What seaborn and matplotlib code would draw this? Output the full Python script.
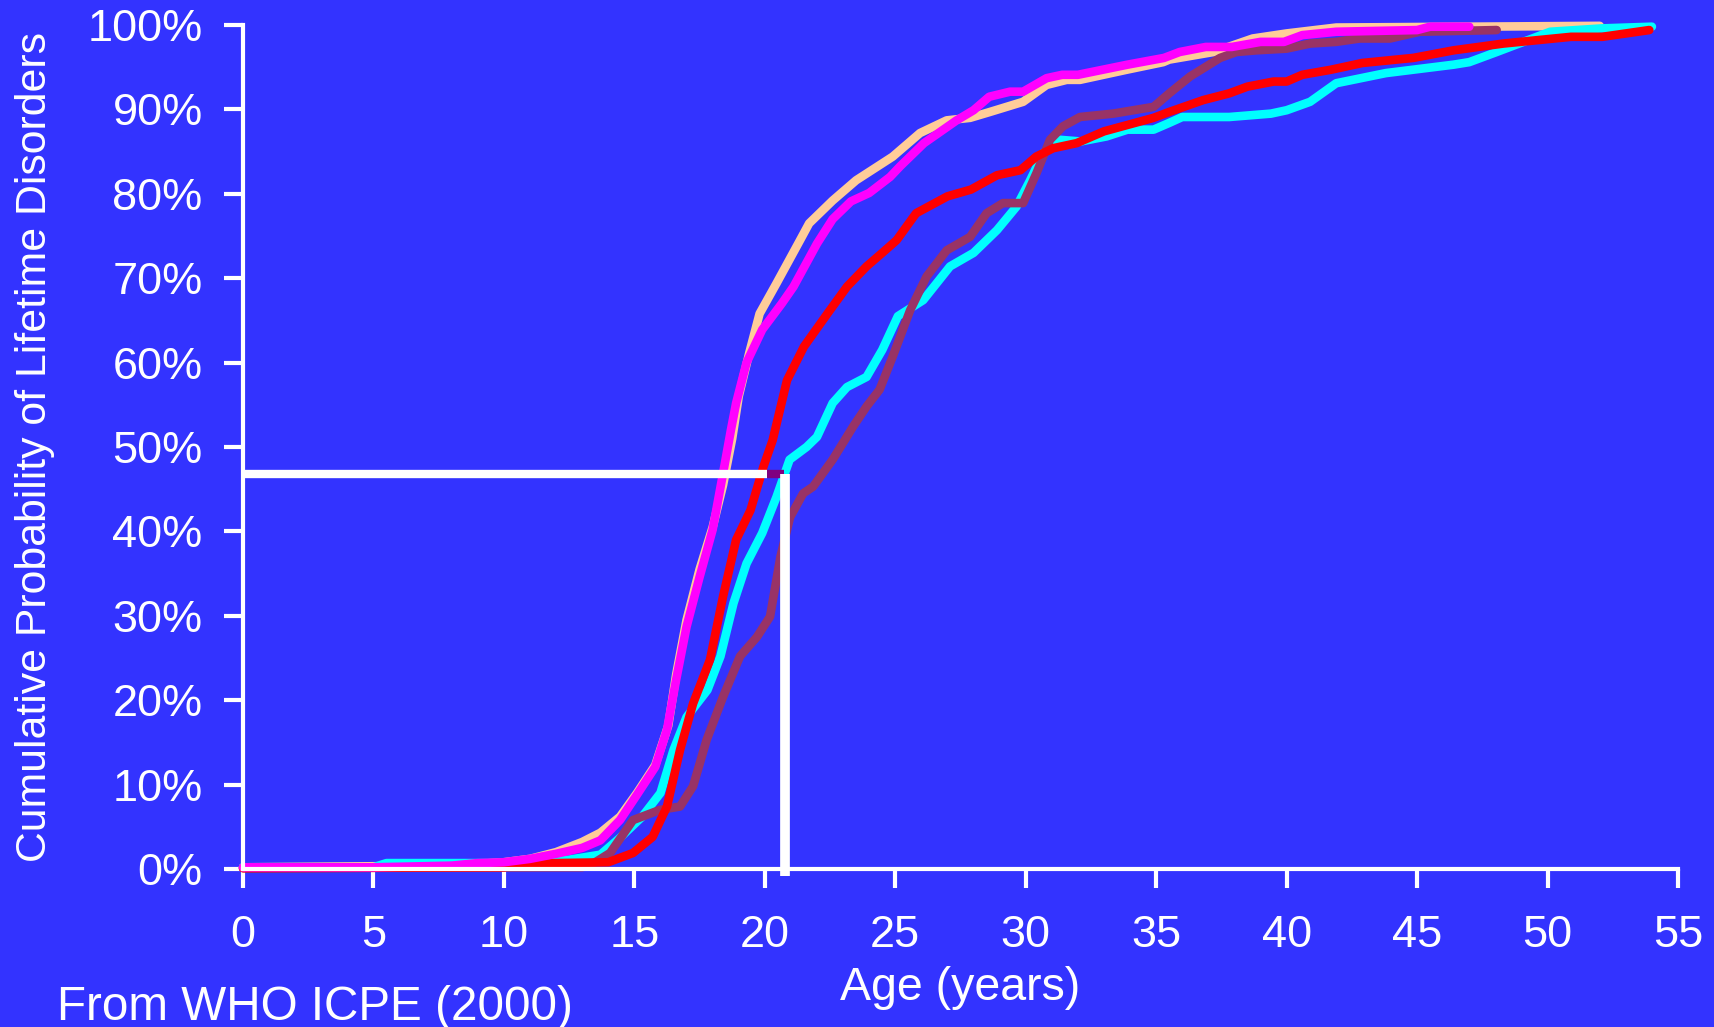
import matplotlib
matplotlib.use("Agg")
import matplotlib.pyplot as plt
import numpy as np
import pandas as pd
import seaborn as sns

# ---------------- data ----------------
peach_age = [0, 8, 10, 11, 12, 13, 13.7, 14.45, 15.1, 15.8, 16.3, 16.6, 17.0, 17.5, 18.0, 18.4,
             18.75, 19.0, 19.4, 19.8, 20.45, 21.35, 21.7, 22.6, 23.5, 24.3, 24.9, 25.95, 26.97,
             27.87, 28.63, 29.9, 30.8, 31.57, 32.08, 33.87, 35.27, 35.5, 37.2, 38.7, 40, 41.9, 52]
peach_pct = [0.2, 0.4, 0.8, 1.2, 2.0, 3.2, 4.3, 6.2, 9.0, 12.3, 17.0, 23.0, 29.5, 35.5, 40.5, 45.5,
             51.0, 56.0, 61.1, 65.8, 69.4, 74.5, 76.5, 79.2, 81.6, 83.2, 84.4, 87.2, 88.7,
             89.0, 89.7, 90.9, 92.9, 93.5, 93.5, 94.7, 95.6, 95.9, 96.8, 98.4, 99.0, 99.7, 99.9]

cyan_age = [0, 5, 5.5, 10, 11, 12.5, 13.7, 14.45, 15.3, 16.0, 16.5, 17.0, 17.8, 18.3, 18.8, 19.3,
            19.9, 20.45, 20.95, 21.6, 22.0, 22.6, 23.15, 23.9, 24.5, 25.1, 26.07, 27.1, 28.0, 28.9,
            29.65, 30.17, 30.67, 31.3, 32.1, 33.1, 33.9, 34.9, 35.5, 36.0, 37.8, 39.4, 40.0, 40.9,
            41.9, 43.8, 46.4, 47.0, 48.05, 50.1, 52.1, 54.0]
cyan_pct = [0.2, 0.2, 0.7, 0.7, 0.9, 1.1, 1.7, 3.7, 6.2, 9.0, 14.1, 18.0, 21.2, 25.2, 31.5, 36.2,
            39.8, 44.1, 48.5, 50.0, 51.2, 55.2, 57.1, 58.3, 61.5, 65.5, 67.4, 71.4, 73.0, 75.7,
            78.5, 81.6, 84.8, 86.4, 86.2, 86.8, 87.6, 87.6, 88.4, 89.1, 89.1, 89.5, 89.9, 90.9,
            93.1, 94.3, 95.3, 95.6, 96.8, 99.2, 99.6, 99.8]

brown_age = [0, 13, 13.5, 14.07, 14.95, 15.98, 16.75, 17.25, 17.77, 18.4, 19.05, 19.7, 20.2, 20.6,
             20.97, 21.47, 21.85, 22.6, 23.4, 23.9, 24.4, 24.9, 25.57, 26.2, 26.97, 27.87, 28.5,
             29.13, 29.9, 30.42, 30.93, 31.43, 32.08, 33.35, 34.9, 35.5, 36.3, 37.45, 38.08, 38.85,
             40.0, 40.9, 41.9, 42.8, 43.96, 45.1, 48.05]
brown_pct = [0.1, 0.2, 0.8, 1.9, 5.8, 7.0, 7.4, 9.8, 15.3, 20.4, 25.2, 27.5, 29.9, 37.0,
             41.7, 44.5, 45.3, 48.5, 52.5, 54.8, 56.8, 60.7, 66.2, 70.2, 73.3, 74.9, 77.7,
             78.9, 78.9, 82.5, 86.4, 88.0, 89.1, 89.5, 90.3, 91.9, 93.9, 96.1, 96.8, 97.0,
             97.2, 97.8, 98.0, 98.4, 98.4, 99.2, 99.4]

red_age = [0, 10, 10.5, 12, 14, 14.95, 15.7, 16.25, 16.75, 17.25, 17.9, 18.4, 18.9, 19.45, 19.95,
           20.3, 20.85, 21.5, 22.4, 23.15, 23.9, 24.5, 25.05, 25.8, 27.0, 27.9, 28.9, 29.8, 30.4,
           31.05, 31.95, 33.0, 34.9, 35.5, 36.8, 37.8, 38.5, 39.5, 40.0, 40.6, 41.7, 42.9, 44.85,
           46.4, 48.3, 50.9, 52.1, 53.9]
red_pct = [0.1, 0.2, 0.5, 0.7, 0.8, 1.9, 3.8, 7.4, 14.1, 19.6, 24.8, 32.3, 39.0, 42.5, 47.7,
           50.8, 57.9, 61.9, 65.8, 69.0, 71.4, 73.0, 74.5, 77.7, 79.7, 80.5, 82.2, 82.8, 84.4,
           85.4, 86.0, 87.4, 89.0, 89.7, 91.1, 91.9, 92.7, 93.3, 93.3, 94.1, 94.7, 95.5, 96.1,
           97.0, 97.8, 98.6, 98.6, 99.4]

magenta_age = [0, 5, 8, 9, 10, 11, 12, 13, 13.7, 14.45, 15.1, 15.8, 16.25, 16.6, 17.0, 17.5, 18.0,
               18.4, 18.7, 18.9, 19.3, 19.9, 20.65, 21.1, 22.0, 22.6, 23.3, 24.0, 24.8, 25.2, 26.1,
               27.35, 28.0, 28.6, 29.4, 29.9, 30.8, 31.4, 32.0, 33.9, 35.3, 35.9, 36.9, 37.9, 39.0,
               39.9, 40.6, 41.9, 45.0, 45.5, 47.0]
magenta_pct = [0.2, 0.2, 0.4, 0.7, 0.8, 1.2, 1.8, 2.5, 3.4, 5.8, 8.8, 12.1, 16.5, 22.4, 28.7, 34.6,
               40.2, 46.9, 52.0, 55.2, 60.0, 63.9, 67.0, 69.0, 74.1, 77.0, 79.1, 80.1, 82.0, 83.3,
               86.0, 88.7, 89.9, 91.5, 92.1, 92.1, 93.7, 94.1, 94.1, 95.3, 96.1, 96.8, 97.4, 97.4,
               98.0, 98.0, 98.8, 99.2, 99.4, 99.8, 99.8]

series_names = ["peach", "cyan", "brown", "red", "magenta"]
series_colors = ["#FFCC99", "#00FFFF", "#993366", "#FF0000", "#FF00FF"]

# median-onset guide (white lines)
guide_age = 20.77
guide_pct = 46.8

x_ticks = [0, 5, 10, 15, 20, 25, 30, 35, 40, 45, 50, 55]
y_ticks = [0, 10, 20, 30, 40, 50, 60, 70, 80, 90, 100]
y_ticklabels = ["0%", "10%", "20%", "30%", "40%", "50%", "60%", "70%", "80%", "90%", "100%"]

# ---------------- build long-form table ----------------
parts = []
for name, a, p in zip(series_names,
                      [peach_age, cyan_age, brown_age, red_age, magenta_age],
                      [peach_pct, cyan_pct, brown_pct, red_pct, magenta_pct]):
    parts.append(pd.DataFrame({"age": a, "pct": p, "series": name}))
df = pd.concat(parts, ignore_index=True)

BG = "#3333FF"
FONT = ["Liberation Sans", "DejaVu Sans"]
plt.rcParams["font.family"] = FONT

W, H = 1714, 1027
fig = plt.figure(figsize=(W / 100, H / 100), dpi=100, facecolor=BG)
ax = fig.add_axes([243 / W, 1 - 869 / H, 1435 / W, 844 / H])
ax.set_facecolor(BG)

sns.lineplot(data=df, x="age", y="pct", hue="series", hue_order=series_names,
             palette=dict(zip(series_names, series_colors)), estimator=None, sort=False,
             linewidth=6.2, legend=False, ax=ax)
for ln in ax.get_lines():
    ln.set_solid_capstyle("round")
    ln.set_solid_joinstyle("round")
    ln.set_clip_on(False)

# guide lines
ax.plot([0, 20.1], [guide_pct, guide_pct], color="white", lw=6, solid_capstyle="butt",
        zorder=10, clip_on=False)
ax.plot([20.1, guide_age - 0.05], [guide_pct, guide_pct], color="#800080", lw=6,
        solid_capstyle="butt", zorder=10, clip_on=False)
ax.plot([guide_age, guide_age], [-0.8, guide_pct], color="white", lw=7, solid_capstyle="butt",
        zorder=11, clip_on=False)

ax.set_xlim(0, 55)
ax.set_ylim(0, 100)
ax.set_xticks(x_ticks)
ax.set_xticklabels([str(t) for t in x_ticks])
ax.set_yticks(y_ticks)
ax.set_yticklabels(y_ticklabels)

for s in ["top", "right"]:
    ax.spines[s].set_visible(False)
for s in ["left", "bottom"]:
    ax.spines[s].set_color("white")
    ax.spines[s].set_linewidth(3)
    ax.spines[s].set_capstyle("projecting")

ax.tick_params(axis="both", colors="white", width=3, length=14, direction="out",
               labelsize=32.5)
ax.tick_params(axis="x", pad=19)
ax.tick_params(axis="y", pad=15)

ax.set_xlabel("Age (years)", color="white", fontsize=33.5, labelpad=7)
ax.set_ylabel("")
fig.text(35.5 / W, 1 - 447 / H, "Cumulative Probability of Lifetime Disorders", rotation=90,
         ha="center", va="center", color="white", fontsize=30.8)
fig.text(57 / W, 1 - 1020 / H, "From WHO ICPE (2000)", ha="left", va="baseline",
         color="white", fontsize=34.3)

fig.savefig("out.png", dpi=100, facecolor=BG)
